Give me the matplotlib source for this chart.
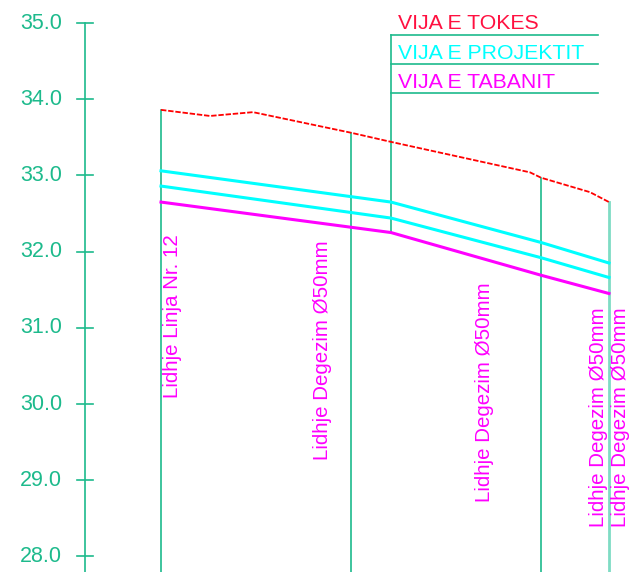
import matplotlib
matplotlib.use("Agg")
import matplotlib.pyplot as plt

# ---- data ----
ground_x = [0, 49, 92, 190, 230, 369, 380, 429, 448]
ground_y = [33.86, 33.78, 33.83, 33.56, 33.44, 33.04, 32.97, 32.78, 32.65]

pipe_x = [0, 230, 380, 448]
project_top = [33.06, 32.65, 32.12, 31.85]
project_bot = [32.86, 32.44, 31.92, 31.66]
invert_y = [32.65, 32.25, 31.69, 31.45]

y_ticks = [35.0, 34.0, 33.0, 32.0, 31.0, 30.0, 29.0, 28.0]
y_tick_labels = ["35.0", "34.0", "33.0", "32.0", "31.0", "30.0", "29.0", "28.0"]

legend_labels = ["VIJA E TOKES", "VIJA E PROJEKTIT", "VIJA E TABANIT"]
connection_labels = ["Lidhje Linja Nr. 12", "Lidhje Degezim Ø50mm", "Lidhje Degezim Ø50mm",
                     "Lidhje Degezim Ø50mm", "Lidhje Degezim Ø50mm"]
connection_x = [11, 161, 323, 437, 459]
connection_y = [30.08, 29.265, 28.714, 28.386, 28.386]

# ---- style ----
GREEN = "#1dba8c"
LIGHTGREEN = "#7fdcc4"
RED = "#ff0000"
RED_TXT = "#ff1040"
CYAN = "#00ffff"
MAG = "#ff00ff"
plt.rcParams['font.family'] = ['Liberation Sans', 'DejaVu Sans']

fig = plt.figure(figsize=(6.3, 5.72), dpi=100)
ax = fig.add_axes([0, 0, 1, 1])
ax.set_xlim(-161, 469)
ax.set_ylim(35 - 549 / 76.2, 35 + 23 / 76.2)
ax.axis("off")

# y axis
ax.plot([-76, -76], [y_ticks[0], ax.get_ylim()[0]], color=GREEN, lw=1.2)
for t, lab in zip(y_ticks, y_tick_labels):
    ax.plot([-84, -68], [t, t], color=GREEN, lw=1.2)
    ax.text(-99, t, lab, color=GREEN, fontsize=15.5, ha="right", va="center")

ybot = ax.get_ylim()[0]
# vertical station lines
ax.plot([0, 0], [ground_y[0], ybot], color=GREEN, lw=1.2)
ax.plot([190, 190], [ground_y[3], ybot], color=GREEN, lw=1.2)
ax.plot([380, 380], [ground_y[6], ybot], color=GREEN, lw=1.2)
ax.plot([448, 448], [ground_y[-1], ybot], color=LIGHTGREEN, lw=2)

# legend box
leg_top = 35 - 12 / 76.2
leg_lines = [35 - 12 / 76.2, 35 - 41 / 76.2, 35 - 70 / 76.2]
ax.plot([230, 230], [leg_top, invert_y[1]], color=GREEN, lw=1.2)
for yl in leg_lines:
    ax.plot([230, 437], [yl, yl], color=GREEN, lw=1.2)
leg_colors = [RED_TXT, CYAN, MAG]
leg_base = [34.921, 34.528, 34.147]
for lab, c, yb in zip(legend_labels, leg_colors, leg_base):
    ax.text(237, yb, lab, color=c, fontsize=15.3, ha="left", va="baseline")

# profile lines
ax.plot(ground_x, ground_y, color=RED, lw=1.3, linestyle=(0, (3, 1)))
ax.plot(pipe_x, project_top, color=CYAN, lw=2.2)
ax.plot(pipe_x, project_bot, color=CYAN, lw=2.2)
ax.plot(pipe_x, invert_y, color=MAG, lw=2.2)

# connection labels
for lab, x, y in zip(connection_labels, connection_x, connection_y):
    ax.text(x, y, lab, color=MAG, fontsize=14.8, rotation=90, ha="center", va="bottom")

fig.savefig("out.png", dpi=100)
